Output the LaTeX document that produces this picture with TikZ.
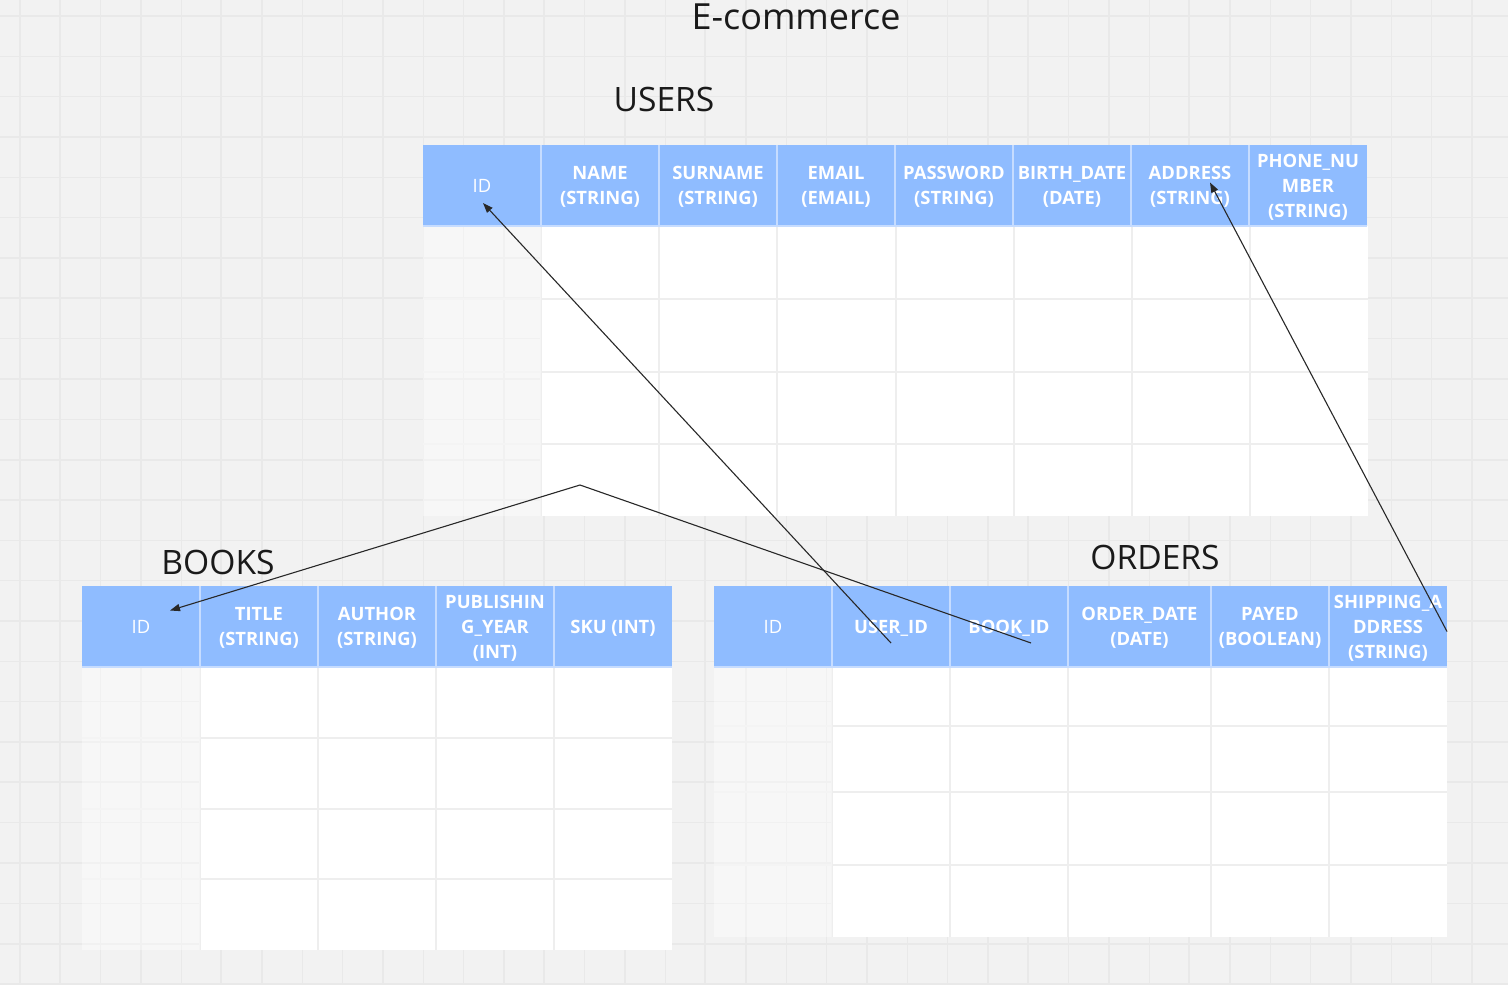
\documentclass[tikz,border=0pt]{standalone}
\usepackage{fontspec}
\setmainfont{Open Sans}
\usepackage{xcolor}
\usetikzlibrary{arrows.meta, positioning, calc}

\definecolor{hdrblue}{RGB}{143,188,255}
\definecolor{hdrline}{RGB}{198,220,255}
\definecolor{cellline}{RGB}{238,238,238}
\definecolor{canvas}{RGB}{242,242,242}
\definecolor{gridline}{RGB}{233,233,233}
\definecolor{inkdark}{RGB}{26,26,26}
\definecolor{linkgray}{RGB}{40,40,40}

\begin{document}
\begin{tikzpicture}[
    x=0.5pt, y=-0.5pt,
    node distance=0pt,
    hcell/.style={rectangle, fill=hdrblue, minimum width=59pt, minimum height=40.5pt, inner sep=0pt, outer sep=0pt, text depth=0pt, align=center, text=white, font=\fontsize{9.2}{12.5}\selectfont\bfseries},
    idcell/.style={hcell, font=\fontsize{9.2}{12.5}\selectfont},
    title/.style={anchor=base, text=inkdark, font=\fontsize{16.8}{20}\selectfont},
    gridln/.style={gridline, line width=0.6pt},
    cellln/.style={cellline, line width=1pt},
    hdrln/.style={hdrline, line width=0.7pt},
    link/.style={-{Triangle[length=5pt, width=3.6pt]}, linkgray, line width=0.55pt}
]
\useasboundingbox (0,0) rectangle (1508,984);

% canvas grid
\fill[canvas] (0,0) rectangle (1508,984);
\foreach \k in {0,...,37} \draw[gridln] ({20+40.33*\k},0) -- ++(0,984);
\foreach \k in {0,...,24} \draw[gridln] (0,{16+40.33*\k}) -- ++(1508,0);
\foreach \k in {0,...,9} \draw[gridln, line width=1pt] ({60+161.33*\k},0) -- ++(0,984);
\foreach \k in {0,...,5} \draw[gridln, line width=1pt] (0,{137+161.33*\k}) -- ++(1508,0);

% users body
\fill[white] (541,226) rectangle (1368,516);
\foreach \xx in {541,659,777,896,1014,1132,1250} \draw[cellln] (\xx,226) -- (\xx,516);
\foreach \yy in {299,372,444} \draw[cellln] (423,\yy) -- (1368,\yy);
\fill[white, opacity=0.4] (423,226) rectangle (541,516);

% books body
\fill[white] (200,667) rectangle (672,950);
\foreach \xx in {200,318,436,554} \draw[cellln] (\xx,667) -- (\xx,950);
\foreach \yy in {738,809,879} \draw[cellln] (82,\yy) -- (672,\yy);
\fill[white, opacity=0.4] (82,667) rectangle (200,950);

% orders body
\fill[white] (832,667) rectangle (1447,937);
\foreach \xx in {832,950,1068,1211,1329} \draw[cellln] (\xx,667) -- (\xx,937);
\foreach \yy in {726,792,865} \draw[cellln] (714,\yy) -- (1447,\yy);
\fill[white, opacity=0.4] (714,667) rectangle (832,937);

% users header
\node[idcell] (u-id) at (482,185.5) {ID};
\node[hcell, right=of u-id] (u-name) {NAME\\(STRING)};
\node[hcell, right=of u-name] (u-surname) {SURNAME\\(STRING)};
\node[hcell, right=of u-surname] (u-email) {EMAIL\\(EMAIL)};
\node[hcell, right=of u-email] (u-pass) {PASSWORD\\(STRING)};
\node[hcell, right=of u-pass] (u-birth) {BIRTH\_DATE\\(DATE)};
\node[hcell, right=of u-birth] (u-addr) {ADDRESS\\(STRING)};
\node[hcell, right=of u-addr] (u-phone) {PHONE\_NU\\MBER\\(STRING)};

% books header
\node[idcell] (b-id) at (141,626.5) {ID};
\node[hcell, right=of b-id] (b-title) {TITLE\\(STRING)};
\node[hcell, right=of b-title] (b-author) {AUTHOR\\(STRING)};
\node[hcell, right=of b-author] (b-year) {PUBLISHIN\\G\_YEAR\\(INT)};
\node[hcell, right=of b-year] (b-sku) {SKU (INT)};

% orders header
\node[idcell] (o-id) at (773,626.5) {ID};
\node[hcell, right=of o-id] (o-user) {USER\_ID};
\node[hcell, right=of o-user] (o-book) {BOOK\_ID};
\node[hcell, right=of o-book, minimum width=71.5pt] (o-date) {ORDER\_DATE\\(DATE)};
\node[hcell, right=of o-date] (o-payed) {PAYED\\(BOOLEAN)};
\node[hcell, right=of o-payed] (o-ship) {SHIPPING\_A\\DDRESS\\(STRING)};

% header separators
\foreach \c in {u-id,u-name,u-surname,u-email,u-pass,u-birth,u-addr,b-id,b-title,b-author,b-year,o-id,o-user,o-book,o-date,o-payed}
  \draw[hdrln] (\c.north east) -- (\c.south east);
\foreach \c/\d in {u-id/u-phone,b-id/b-sku,o-id/o-ship}
  \draw[hdrln] (\c.south west) -- (\d.south east);

% titles
\node[title, font=\fontsize{18}{22}\selectfont] (heading) at (796,30) {E-commerce};
\node[title] (users) at (664,112) {USERS};
\node[title] (books) at (218,574) {BOOKS};
\node[title] (orders) at (1155,569) {ORDERS};

% relations
\coordinate (bend) at (580,485);
\draw[link] ($(o-user.center)+(0,16.5)$) -- ($(u-id.center)+(1,17.5)$);
\draw[link] ($(o-book.center)+(22,16.5)$) -- (bend) -- ($(b-id.center)+(29,-16)$);
\draw[link] ($(o-ship.east)+(0,5)$) -- ($(u-addr.center)+(20,-3)$);

\end{tikzpicture}
\end{document}
